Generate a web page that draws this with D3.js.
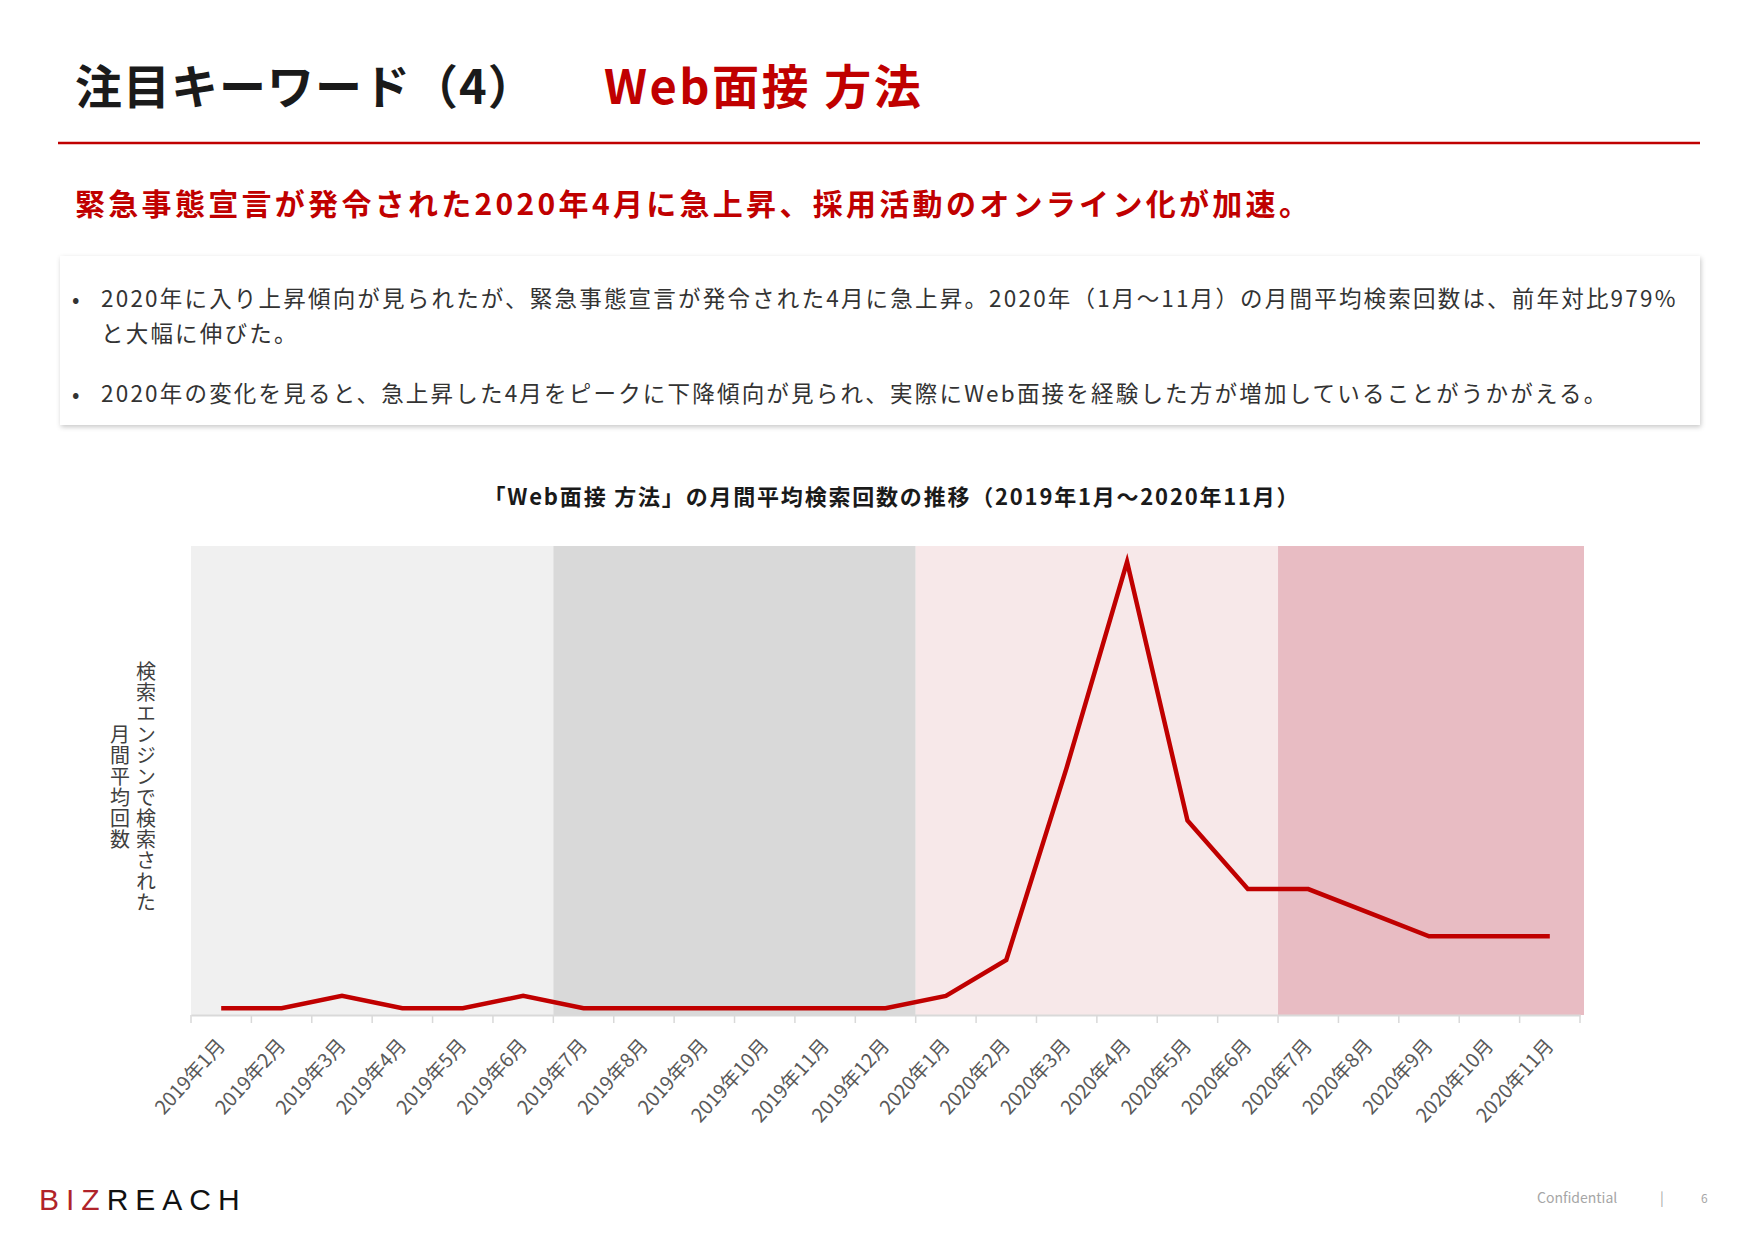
<!DOCTYPE html>
<html><head><meta charset="utf-8">
<script src="https://cdn.jsdelivr.net/npm/d3@7"></script>
<style>
body{margin:0;background:#fff;font-family:"Noto Sans CJK JP","Noto Sans",sans-serif;}
</style></head>
<body><svg id="c" width="1754" height="1240"></svg>
<script>
// データ
const months = ["2019年1月","2019年2月","2019年3月","2019年4月","2019年5月","2019年6月","2019年7月","2019年8月","2019年9月","2019年10月","2019年11月","2019年12月",
  "2020年1月","2020年2月","2020年3月","2020年4月","2020年5月","2020年6月","2020年7月","2020年8月","2020年9月","2020年10月","2020年11月"];
const values = [6,6,17,6,6,17,6,6,6,6,6,6,17,49,220,403,173,112,112,91,70,70,70];
const bands = [
  {from:"2019年1月", to:"2019年6月", color:"#f0f0f0"},
  {from:"2019年7月", to:"2019年12月", color:"#d9d9d9"},
  {from:"2020年1月", to:"2020年6月", color:"#f7e8e9"},
  {from:"2020年7月", to:"2020年11月", color:"#e8bcc3"}
];
const bullets = [
  ["2020年に入り上昇傾向が見られたが、緊急事態宣言が発令された4月に急上昇。2020年（1月～11月）の月間平均検索回数は、前年対比979%","と大幅に伸びた。"],
  ["2020年の変化を見ると、急上昇した4月をピークに下降傾向が見られ、実際にWeb面接を経験した方が増加していることがうかがえる。"]
];

const svg = d3.select("#c");
const red = "#c00000";

// タイトル
const t = svg.append("text").attr("x",75).attr("y",104).attr("font-size",47).attr("font-weight",700).style("letter-spacing","1px");
t.append("tspan").attr("fill","#1a1a1a").text("注目キーワード（4）");
svg.append("text").attr("x",604).attr("y",104).attr("font-size",47).attr("font-weight",700).attr("fill",red)
  .style("letter-spacing","2.5px").text("Web面接 方法");
svg.append("line").attr("x1",58).attr("x2",1700).attr("y1",143).attr("y2",143).attr("stroke",red).attr("stroke-width",2.5);

svg.append("text").attr("x",75).attr("y",215).attr("font-size",30).attr("font-weight",700).attr("fill",red)
  .style("letter-spacing","3.3px")
  .text("緊急事態宣言が発令された2020年4月に急上昇、採用活動のオンライン化が加速。");

// 本文ボックス
const defs = svg.append("defs");
const f = defs.append("filter").attr("id","sh").attr("x","-5%").attr("y","-20%").attr("width","110%").attr("height","140%");
f.append("feDropShadow").attr("dx",1).attr("dy",2).attr("stdDeviation",2.5).attr("flood-color","#000").attr("flood-opacity",0.22);
svg.append("rect").attr("x",60).attr("y",256).attr("width",1640).attr("height",169).attr("fill","#fff").attr("filter","url(#sh)");
const lineY = [[307,342],[402]];
bullets.forEach((b,i)=>{
  svg.append("text").attr("x",72).attr("y",lineY[i][0]).attr("font-size",22).attr("fill","#333").text("•");
  b.forEach((s,j)=>svg.append("text").attr("x",101).attr("y",lineY[i][j]).attr("font-size",22.5).attr("fill","#333")
    .style("letter-spacing","2.2px").text(s));
});

// グラフ
svg.append("text").attr("x",892).attr("y",505).attr("text-anchor","middle").attr("font-size",22).attr("font-weight",700).attr("fill","#1a1a1a")
  .style("letter-spacing","1.8px")
  .text("「Web面接 方法」の月間平均検索回数の推移（2019年1月～2020年11月）");

const pL = 191, pR = 1580, pT = 546, pB = 1015;
const x = d3.scaleBand().domain(months).range([pL,pR]);
const y = d3.scaleLinear().domain([0,417]).range([pB,pT]);

svg.selectAll(".band").data(bands).enter().append("rect")
  .attr("x",d=>x(d.from))
  .attr("width",(d,i)=> (i===bands.length-1 ? 1584 : x(d.to)+x.bandwidth()) - x(d.from))
  .attr("y",pT).attr("height",pB-pT).attr("fill",d=>d.color);

const ax = svg.append("g").attr("transform",`translate(0,${pB})`)
  .call(d3.axisBottom(x).tickSize(0).tickFormat(""));
ax.select(".domain").attr("stroke","#d9d9d9").attr("stroke-width",2);
svg.selectAll(".tk").data(months.concat([null])).enter().append("line")
  .attr("x1",(d,i)=>pL+i*x.bandwidth()).attr("x2",(d,i)=>pL+i*x.bandwidth())
  .attr("y1",pB).attr("y2",pB+8).attr("stroke","#d9d9d9").attr("stroke-width",1.5);
svg.selectAll(".xl").data(months).enter().append("text")
  .attr("transform",d=>`translate(${x(d)+x.bandwidth()/2},${pB+27}) rotate(-48)`)
  .attr("text-anchor","end").attr("dy","0.35em").attr("font-size",19.5).attr("fill","#595959").text(d=>d);

svg.append("path").datum(values)
  .attr("d",d3.line().x((d,i)=>x(months[i])+x.bandwidth()/2).y(d=>y(d)))
  .attr("fill","none").attr("stroke",red).attr("stroke-width",4.5).attr("stroke-linejoin","miter");

// 縦軸ラベル
[["検索エンジンで検索された",146],["月間平均回数",120]].forEach(([s,xx])=>{
  svg.append("text").attr("x",xx).attr("y",787).attr("font-size",20).attr("fill","#404040").attr("text-anchor","middle")
    .style("writing-mode","vertical-rl").style("letter-spacing","1px").text(s);
});

// フッター
const lg = svg.append("text").attr("x",39).attr("y",1210).attr("font-size",30).attr("font-family","Liberation Sans,Arial,sans-serif").style("letter-spacing","7px");
lg.append("tspan").attr("fill","#b0232a").text("BIZ");
lg.append("tspan").attr("fill","#111").text("REACH");
svg.append("text").attr("x",1537).attr("y",1203).attr("font-size",14).attr("fill","#a6a6a6").text("Confidential");
svg.append("text").attr("x",1660).attr("y",1203).attr("font-size",14).attr("fill","#a6a6a6").text("|");
svg.append("text").attr("x",1701).attr("y",1203).attr("font-size",12).attr("fill","#a6a6a6").text("6");
</script></body></html>
